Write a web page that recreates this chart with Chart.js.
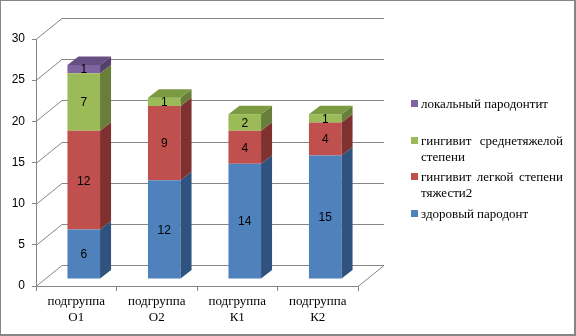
<!DOCTYPE html>
<html>
<head>
<meta charset="utf-8">
<script src="https://cdn.jsdelivr.net/npm/chart.js@4.4.1/dist/chart.umd.min.js"></script>
<style>
    html, body { margin: 0; padding: 0; background: #fff; }
    #wrap { position: relative; width: 576px; height: 336px; }
    #frame {
        position: absolute; left: 0; top: 0; width: 576px; height: 336px;
        box-sizing: border-box; border: 1px solid #868686;
        border-right-width: 2px; border-bottom-width: 2px; pointer-events: none;
    }
    #legend {
        position: absolute; left: 411px; top: 97px; width: 152px;
        font: 13px "Liberation Serif", "Times New Roman", serif; color: #000;
    }
    #legend .item { position: relative; height: 37.5px; padding-left: 10px; }
    #legend .box { position: absolute; left: 0; top: 4px; width: 7px; height: 7px; }
    #legend .text { line-height: 16px; text-align: justify; margin-top: -1px; }
</style>
</head>
<body>
<div id="wrap">
    <canvas id="chart" width="576" height="336"></canvas>
    <div id="legend"></div>
    <div id="frame"></div>
</div>
<script>
const categories = [['подгруппа', 'О1'], ['подгруппа', 'О2'], ['подгруппа', 'К1'], ['подгруппа', 'К2']];
const healthy = [6, 12, 14, 15];
const mildGingivitis = [12, 9, 4, 4];
const moderateGingivitis = [7, 1, 2, 1];
const localPeriodontitis = [1, 0, 0, 0];
const seriesNames = [
    'здоровый пародонт',
    'гингивит легкой степени тяжести2',
    'гингивит среднетяжелой степени',
    'локальный пародонтит'
];

// front / side / top shades per series
const shades = [
    { front: '#4F81BD', side: '#30527E', top: '#3E6598' },
    { front: '#C0504D', side: '#7F312F', top: '#9A3F3D' },
    { front: '#9BBB59', side: '#697E3A', top: '#7B9A41' },
    { front: '#8064A2', side: '#54406D', top: '#654F83' }
];

const WALL = { x: 26, y: -21 };      // depth of floor and side wall
const BAR_SHIFT = { x: 7.5, y: -7 }; // bars stand a bit behind the front edge
const BAR_DEPTH = { x: 11, y: -8.5 };
const lineColor = '#868686';

const box3d = {
    id: 'box3d',
    beforeDatasetsDraw(chart) {
        const { ctx, chartArea: a, scales: { y } } = chart;
        ctx.save();
        ctx.strokeStyle = lineColor;
        ctx.lineWidth = 1;
        ctx.beginPath();
        y.ticks.forEach(t => {
            const py = Math.round(y.getPixelForValue(t.value)) + 0.5;
            ctx.moveTo(a.left, py);
            ctx.lineTo(a.left + WALL.x, py + WALL.y);
            ctx.lineTo(a.right + WALL.x, py + WALL.y);
        });
        const fy = Math.round(a.bottom) + 0.5;
        ctx.moveTo(a.right, fy);
        ctx.lineTo(a.right + WALL.x, fy + WALL.y);
        ctx.stroke();
        ctx.restore();

        ctx.save();
        ctx.translate(BAR_SHIFT.x, BAR_SHIFT.y);
    },
    afterDatasetsDraw(chart) {
        const { ctx } = chart;
        const metas = chart.data.datasets.map((d, i) => chart.getDatasetMeta(i));

        // side faces
        metas.forEach((meta, di) => {
            meta.data.forEach((el, i) => {
                if (!chart.data.datasets[di].data[i]) return;
                const r = el.x + el.width / 2;
                ctx.fillStyle = shades[di].side;
                ctx.beginPath();
                ctx.moveTo(r, el.y);
                ctx.lineTo(r + BAR_DEPTH.x, el.y + BAR_DEPTH.y);
                ctx.lineTo(r + BAR_DEPTH.x, el.base + BAR_DEPTH.y);
                ctx.lineTo(r, el.base);
                ctx.closePath();
                ctx.fill();
            });
        });

        // top face of each stack
        categories.forEach((c, i) => {
            let di = -1;
            chart.data.datasets.forEach((d, k) => { if (d.data[i]) di = k; });
            if (di < 0) return;
            const el = metas[di].data[i];
            const l = el.x - el.width / 2, r = el.x + el.width / 2;
            ctx.fillStyle = shades[di].top;
            ctx.beginPath();
            ctx.moveTo(l, el.y);
            ctx.lineTo(l + BAR_DEPTH.x, el.y + BAR_DEPTH.y);
            ctx.lineTo(r + BAR_DEPTH.x, el.y + BAR_DEPTH.y);
            ctx.lineTo(r, el.y);
            ctx.closePath();
            ctx.fill();
        });

        // value labels
        ctx.fillStyle = '#000';
        ctx.font = '12px "Liberation Sans", Arial, sans-serif';
        ctx.textAlign = 'center';
        ctx.textBaseline = 'middle';
        metas.forEach((meta, di) => {
            meta.data.forEach((el, i) => {
                const v = chart.data.datasets[di].data[i];
                if (!v) return;
                ctx.fillText(String(v), el.x, (el.y + el.base) / 2 + 1);
            });
        });
        ctx.restore();
    }
};

const seriesData = [healthy, mildGingivitis, moderateGingivitis, localPeriodontitis];

const data = {
    labels: categories,
    datasets: seriesData.map((values, i) => ({
        label: seriesNames[i],
        data: values,
        backgroundColor: shades[i].front,
        borderWidth: 0,
        barPercentage: 0.405,
        categoryPercentage: 1,
        clip: false
    }))
};

const chart = new Chart(document.getElementById('chart'), {
    type: 'bar',
    data: data,
    plugins: [box3d],
    options: {
        responsive: false,
        animation: false,
        layout: { padding: { left: 0, top: 39, right: 218, bottom: 0 } },
        plugins: { legend: { display: false }, tooltip: { enabled: false } },
        scales: {
            x: {
                stacked: true,
                afterFit: s => { s.height = 50; },
                grid: { offset: true, drawOnChartArea: false, drawTicks: true, tickLength: 5, color: lineColor },
                border: { color: lineColor },
                ticks: {
                    color: '#000',
                    padding: 3,
                    maxRotation: 0,
                    autoSkip: false,
                    font: { family: '"Liberation Serif", "Times New Roman", serif', size: 13, lineHeight: 1.2 }
                }
            },
            y: {
                stacked: true,
                min: 0,
                max: 30,
                afterFit: s => { s.width = 36; },
                grid: { drawOnChartArea: false, drawTicks: true, tickLength: 4, color: lineColor },
                border: { color: lineColor },
                ticks: {
                    stepSize: 5,
                    color: '#000',
                    padding: 7,
                    font: { family: '"Liberation Sans", Arial, sans-serif', size: 12 }
                }
            }
        }
    }
});

// legend, top series first
const legend = document.getElementById('legend');
chart.data.datasets.slice().reverse().forEach((ds, k) => {
    const item = document.createElement('div');
    item.className = 'item';
    const box = document.createElement('span');
    box.className = 'box';
    box.style.background = ds.backgroundColor;
    const text = document.createElement('div');
    text.className = 'text';
    text.textContent = ds.label;
    item.appendChild(box);
    item.appendChild(text);
    legend.appendChild(item);
});
</script>
</body>
</html>
